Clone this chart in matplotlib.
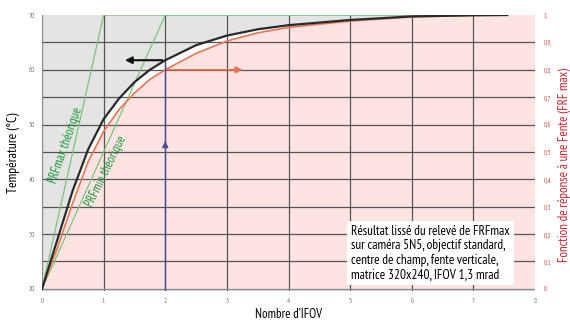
import matplotlib
matplotlib.use("Agg")
import matplotlib.pyplot as plt
import numpy as np

plt.rcParams['font.family'] = ['PT Sans Narrow', 'Fira Sans Condensed', 'Roboto Condensed',
                               'Archivo Narrow', 'Liberation Sans Narrow', 'DejaVu Sans']

nifov = [0, 0.25, 0.5, 0.75, 1.0, 1.25, 1.5, 1.75, 2.0, 2.5, 3.0, 3.5, 4.0, 5.0, 6.0, 7.0, 7.55]
frf_black = [0, 0.18, 0.36, 0.51, 0.62, 0.695, 0.755, 0.80, 0.835, 0.89, 0.925, 0.948, 0.963, 0.982, 0.995, 0.999, 1.0]
frf_red = [0, 0.15, 0.315, 0.465, 0.575, 0.655, 0.715, 0.765, 0.80, 0.86, 0.905, 0.935, 0.955, 0.978, 0.993, 0.999, 1.0]
prfmax_x = [0, 1, 7.55]
prfmin_x = [0, 2, 7.55]
prf_y = [0, 1, 1]
t_min, t_max = 20, 70
xticks = list(range(0, 9))
left_ticks = [20, 30, 40, 50, 60, 70]
right_ticks = [0, 0.1, 0.2, 0.3, 0.4, 0.5, 0.6, 0.7, 0.8, 0.9, 1]
note = ("Résultat lissé du relevé de FRFmax\n"
        "sur caméra 5N5, objectif standard,\n"
        "centre de champ, fente verticale,\n"
        "matrice 320x240, IFOV 1,3 mrad")


def to_t(v):
    return t_min + (t_max - t_min) * np.asarray(v, dtype=float)


fig = plt.figure(figsize=(5.7, 3.27), dpi=100)
ax = fig.add_axes([0.0737, 0.11, 0.865, 0.844])
ax.set_xlim(0, 8)
ax.set_ylim(19.6, 70)
ax.set_facecolor('#e4e4e4')

xs = np.array(nifov)
ax.fill_between(xs, to_t(frf_black), 70, color='#e4e4e4', lw=0, zorder=0)
ax.fill_between(xs, 20, to_t(frf_red), color='#fde4e3', lw=0, zorder=0)
ax.fill_between([7.55, 8], 20, 70, color='#fde4e3', lw=0, zorder=0)
ax.fill_between(xs, to_t(frf_red), to_t(frf_black), color='white', lw=0, zorder=0)

for y in np.arange(25, 70, 5):
    ax.axhline(y, color='#555555', lw=0.9, zorder=1)
for x in range(1, 8):
    ax.axvline(x, color='#555555', lw=0.9, zorder=1)
ax.axhline(20, color='#888888', lw=0.9, zorder=1)
ax.axvline(0, color='#888888', lw=0.9, zorder=1)

ax.plot(prfmax_x, to_t(prf_y), color='#7cc47c', lw=0.9, zorder=2)
ax.plot(prfmin_x, to_t(prf_y), color='#7cc47c', lw=0.9, zorder=2)

ax.plot(xs, to_t(frf_red), color='#e8744e', lw=1.2, zorder=3)
ax.plot(xs, to_t(frf_black), color='#2a2a2a', lw=1.6, zorder=4)

# reading at 2 IFOV
ax.plot([2, 2], [19.6, to_t(0.835)], color='#4a4a9a', lw=1, zorder=3)
ax.annotate('', xy=(2, 47.5), xytext=(2, 45.5),
            arrowprops=dict(arrowstyle='-|>', color='#4a4a9a', lw=1, mutation_scale=9), zorder=5)
ax.annotate('', xy=(1.3, to_t(0.835)), xytext=(2, to_t(0.835)),
            arrowprops=dict(arrowstyle='-|>', color='#111111', lw=1.5, mutation_scale=10), zorder=5)
ax.annotate('', xy=(3.3, to_t(0.8)), xytext=(2, to_t(0.8)),
            arrowprops=dict(arrowstyle='-|>', color='#e8744e', lw=1.2, mutation_scale=10), zorder=5)

ax.text(0.39, 46.1, 'PRFmax théorique', rotation=71, color='#1c9a3c', fontsize=9,
        ha='center', va='center', zorder=6)
ax.text(1.04, 41.4, 'PRFmin théorique', rotation=64, color='#1c9a3c', fontsize=9,
        ha='center', va='center', zorder=6)

ax.text(5.02, 31.7, note, fontsize=9.5, color='black', ha='left', va='top', linespacing=1.15,
        bbox=dict(boxstyle='square,pad=0.3', fc='white', ec='none'), zorder=7)

for s in ax.spines.values():
    s.set_visible(False)
ax.set_xticks(xticks)
ax.set_yticks(left_ticks)
ax.tick_params(length=0, labelsize=5, colors='#777777', pad=5)
ax.set_xlabel("Nombre d’IFOV", fontsize=9.3, labelpad=2)
ax.set_ylabel("Température (°C)", fontsize=9.8, labelpad=6)

ax2 = ax.twinx()
ax2.set_ylim((19.6 - t_min) / (t_max - t_min), 1)
ax2.set_yticks(right_ticks)
ax2.set_yticklabels([('%g' % v).replace('.', ',') for v in right_ticks])
ax2.tick_params(length=0, labelsize=5, colors='#c8504a', pad=6)
for s in ax2.spines.values():
    s.set_visible(False)
ax2.set_ylabel("Fonction de réponse à une Fente (FRF max)", fontsize=9.4, color='#cc1f2c')
ax2.yaxis.set_label_coords(1.046, 0.457)

fig.savefig('out.png', dpi=100)
